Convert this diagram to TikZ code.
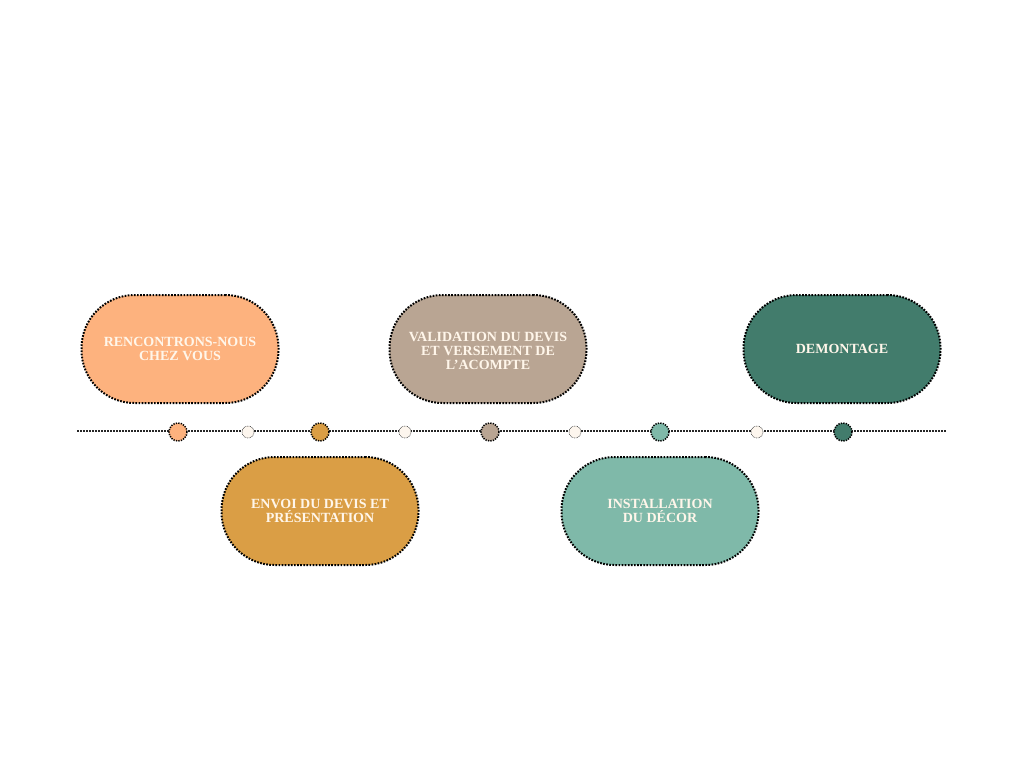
\documentclass[tikz,border=0pt]{standalone}
\usepackage{fontspec}
\setmainfont{Liberation Serif}
\definecolor{c1}{HTML}{FDB27E}
\definecolor{c2}{HTML}{DA9E45}
\definecolor{c3}{HTML}{B9A593}
\definecolor{c4}{HTML}{7FB9A9}
\definecolor{c5}{HTML}{427C6C}
\definecolor{txt}{HTML}{FFF6EA}
\definecolor{cream}{HTML}{FDF6EE}
\begin{document}
\begin{tikzpicture}[x=1pt,y=-1pt,
  pill/.style={draw=black, line width=2pt, dash pattern=on 1.7pt off 1.4pt,
    minimum width=197pt, minimum height=108pt, rounded corners=53pt,
    text=txt, font=\fontsize{14}{14}\selectfont\bfseries, align=center, inner sep=0pt},
  bigdot/.style={circle, draw=black, line width=1.5pt, dash pattern=on 1.3pt off 1.2pt, minimum size=18pt, inner sep=0pt},
  smalldot/.style={circle, draw=black!70, line width=0.6pt, dash pattern=on 0.8pt off 0.8pt, fill=cream, minimum size=12pt, inner sep=0pt},
  tline/.style={draw=black!85, line width=1.5pt, dash pattern=on 1.5pt off 1.5pt}]
\useasboundingbox (0,0) rectangle (1024,768);
\coordinate (ls) at (77,431);
\coordinate (le) at (946,431);
\draw[tline] (ls) -- (le);
\node[pill, fill=c1] (p1) at (180,349) {RENCONTRONS-NOUS\\CHEZ VOUS};
\node[pill, fill=c2] (p2) at (320,511) {ENVOI DU DEVIS ET\\PRÉSENTATION};
\node[pill, fill=c3] (p3) at (488,349) {};
\node[txt, font=\fontsize{14}{14}\selectfont\bfseries, align=center, inner sep=0pt] (t3) at (p3.center) [yshift=-2pt] {VALIDATION DU DEVIS\\ET VERSEMENT DE\\L’ACOMPTE};
\node[pill, fill=c4] (p4) at (660,511) {INSTALLATION\\DU DÉCOR};
\node[pill, fill=c5] (p5) at (842,349) {DEMONTAGE};
\node[bigdot, fill=c1] (d1) at (178,432) {};
\node[bigdot, fill=c2] (d2) at (320,432) {};
\node[bigdot, fill=c3] (d3) at (490,432) {};
\node[bigdot, fill=c4] (d4) at (660,432) {};
\node[bigdot, fill=c5] (d5) at (843,432) {};
\node[smalldot] (s1) at (248,432) {};
\node[smalldot] (s2) at (405,432) {};
\node[smalldot] (s3) at (575,432) {};
\node[smalldot] (s4) at (757,432) {};
\end{tikzpicture}
\end{document}
